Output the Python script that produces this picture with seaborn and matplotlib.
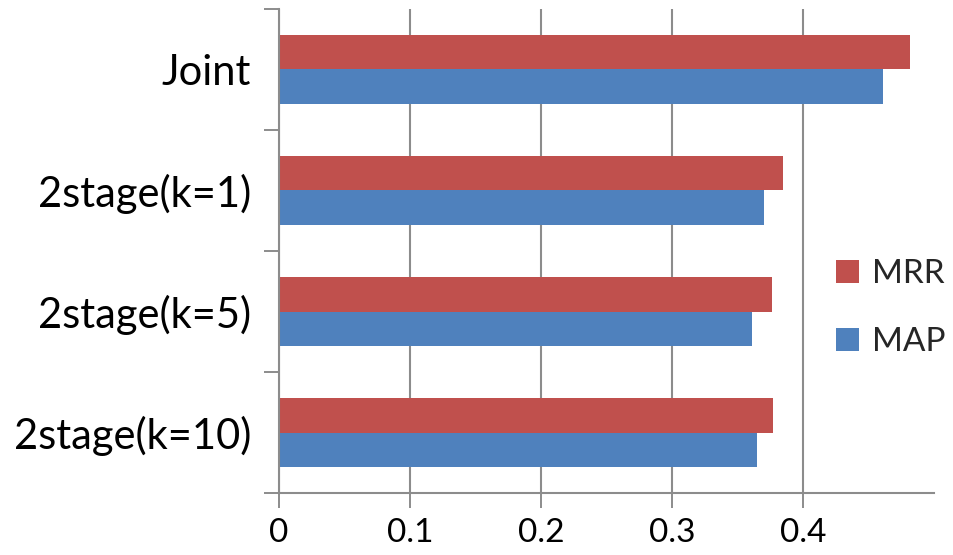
import matplotlib
matplotlib.use("Agg")
import matplotlib.pyplot as plt
import seaborn as sns
import pandas as pd
from matplotlib.patches import Patch
from matplotlib.ticker import FixedLocator

methods = ["Joint", "2stage(k=1)", "2stage(k=5)", "2stage(k=10)"]
mrr = [0.482, 0.385, 0.376, 0.377]
map_ = [0.461, 0.370, 0.361, 0.365]
metrics = ["MRR", "MAP"]
x_ticks = [0, 0.1, 0.2, 0.3, 0.4]
x_tick_labels = ["0", "0.1", "0.2", "0.3", "0.4"]

df = pd.DataFrame({
    "method": methods * 2,
    "metric": ["MRR"] * len(methods) + ["MAP"] * len(methods),
    "score": mrr + map_,
})

sns.set_theme(style="white")
plt.rcParams["font.family"] = ["Lato", "DejaVu Sans"]

palette = {"MRR": "#C0504D", "MAP": "#4F81BD"}
axis_grey = "#8C8C8C"

fig = plt.figure(figsize=(9.54, 5.55), dpi=100)
ax = fig.add_axes([0.2925, 0.1117, 0.979 - 0.2925, 0.9838 - 0.1117])

sns.barplot(data=df, y="method", x="score", hue="metric", order=methods,
            hue_order=metrics, palette=palette, orient="h", width=0.565,
            saturation=1, ax=ax, legend=False, linewidth=0)

ax.set_xlim(0, 0.5)
ax.set_ylim(len(methods) - 0.5, -0.5)
ax.set_xlabel("")
ax.set_ylabel("")

# x axis: ticks outward, vertical gridlines
ax.set_xticks(x_ticks)
ax.set_xticklabels(x_tick_labels, fontsize=24, color="black")
ax.tick_params(axis="x", direction="out", length=11, width=1.4,
               color=axis_grey, pad=7, bottom=True)
ax.xaxis.grid(True, color=axis_grey, linewidth=1.5)
ax.set_axisbelow(True)

# y axis: tick marks between categories, labels centred on them
ax.yaxis.set_major_locator(FixedLocator([i - 0.5 for i in range(len(methods) + 1)]))
ax.yaxis.set_major_formatter(plt.NullFormatter())
ax.yaxis.set_minor_locator(FixedLocator(list(range(len(methods)))))
ax.set_yticklabels(methods, minor=True, fontsize=30, color="black")
ax.tick_params(axis="y", which="major", direction="out", length=11,
               width=1.4, color=axis_grey, left=True)
ax.tick_params(axis="y", which="minor", length=0, pad=20)

for side in ("top", "right"):
    ax.spines[side].set_visible(False)
for side in ("left", "bottom"):
    ax.spines[side].set_color(axis_grey)
    ax.spines[side].set_linewidth(1.5)

handles = [Patch(facecolor=palette[m], edgecolor="none", label=m) for m in metrics]
fig.legend(handles=handles, loc="center left", bbox_to_anchor=(0.876, 0.445),
           frameon=False, fontsize=24, handlelength=0.7, handleheight=0.7,
           handletextpad=0.4, labelspacing=1.15, borderpad=0, borderaxespad=0)

fig.savefig("out.png", dpi=100)
